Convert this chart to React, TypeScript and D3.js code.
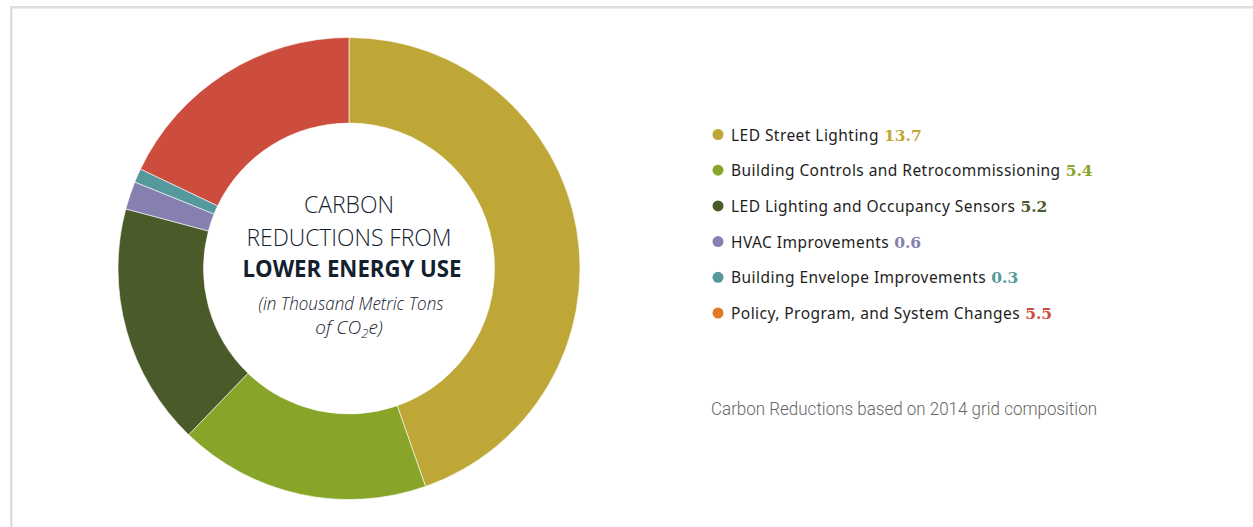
import React from "react";
import * as d3 from "d3";

const categories = [
  "LED Street Lighting",
  "Building Controls and Retrocommissioning",
  "LED Lighting and Occupancy Sensors",
  "HVAC Improvements",
  "Building Envelope Improvements",
  "Policy, Program, and System Changes",
];
const values = [13.7, 5.4, 5.2, 0.6, 0.3, 5.5];
const valueLabels = ["13.7", "5.4", "5.2", "0.6", "0.3", "5.5"];
const sliceColors = ["#BEA637", "#89A529", "#4A5A28", "#8580B0", "#55999C", "#CC4C3D"];
const dotColors = ["#BEA637", "#89A529", "#4A5A28", "#8580B0", "#55999C", "#E07A22"];
const valueColors = ["#BEA637", "#89A529", "#4A5A28", "#8580B0", "#55999C", "#CC4C3D"];

const W = 1253;
const H = 527;
const cx = 349;
const cy = 268.5;
const outerR = 231;
const innerR = 145.5;

export default function App() {
  const pie = d3.pie<number>().sort(null).value((d) => d)(values);
  const arc = d3.arc<d3.PieArcDatum<number>>().innerRadius(innerR).outerRadius(outerR);

  const legendX = 718;
  const legendY0 = 140.5;
  const legendStep = 35.7;

  return (
    <svg
      width={W}
      height={H}
      style={{ position: "absolute", left: 0, top: 0, background: "#fff" }}
    >
      <rect x={0} y={0} width={W} height={H} fill="#fff" />
      {/* frame */}
      <rect x={10} y={6} width={W - 10} height={2.5} fill="#DEDEDF" />
      <rect x={10} y={6} width={2.5} height={H - 6} fill="#DEDEDF" />

      <g transform={`translate(${cx},${cy})`}>
        {pie.map((p, i) => (
          <path key={i} d={arc(p) || ""} fill={sliceColors[i]} stroke="#fff" strokeWidth={0.6} />
        ))}
      </g>

      {/* center title */}
      <g fill="#13212E" textAnchor="middle" fontFamily="'Open Sans', sans-serif">
        <text x={cx} y={213} fontSize={24} fontWeight={300} textLength={90} lengthAdjust="spacingAndGlyphs">
          CARBON
        </text>
        <text x={cx} y={246} fontSize={24} fontWeight={300} textLength={205} lengthAdjust="spacingAndGlyphs">
          REDUCTIONS FROM
        </text>
        <text x={352} y={277} fontSize={24} fontWeight={700} textLength={219} lengthAdjust="spacingAndGlyphs">
          LOWER ENERGY USE
        </text>
        <text x={351} y={310} fontSize={19} fontStyle="italic" fontWeight={300} textLength={185} lengthAdjust="spacingAndGlyphs">
          (in Thousand Metric Tons
        </text>
        <text x={349} y={334} fontSize={19} fontStyle="italic" fontWeight={300}>
          of CO<tspan fontSize={13} dy={4}>2</tspan>
          <tspan dy={-4}>e)</tspan>
        </text>
      </g>

      {/* legend */}
      {categories.map((c, i) => {
        const y = legendY0 + i * legendStep;
        return (
          <g key={c}>
            <circle cx={legendX} cy={y - 6} r={5.5} fill={dotColors[i]} />
            <text x={731} y={y} fontSize={15.5} fill="#1E1E1E" fontFamily="'Noto Sans', sans-serif">
              <tspan letterSpacing={0.45}>{c}</tspan>{" "}
              <tspan fill={valueColors[i]} fontFamily="'DejaVu Serif', serif" fontWeight={700} fontSize={15.5} dx={1}>
                {valueLabels[i]}
              </tspan>
            </text>
          </g>
        );
      })}

      <text
        x={711}
        y={415}
        fontSize={18}
        fill="#666"
        fontFamily="Roboto, sans-serif"
        fontWeight={300}
        textLength={386}
        lengthAdjust="spacingAndGlyphs"
      >
        Carbon Reductions based on 2014 grid composition
      </text>
    </svg>
  );
}
